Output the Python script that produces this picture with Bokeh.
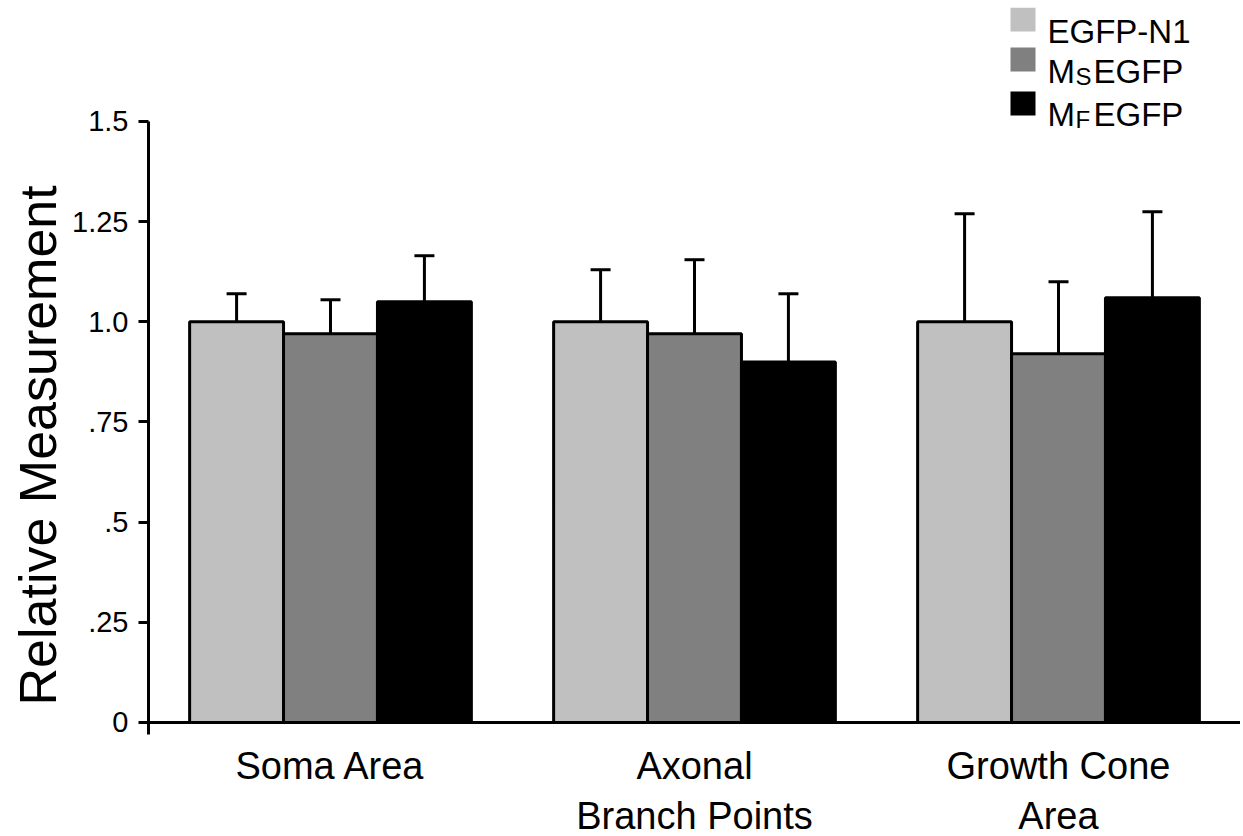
from bokeh.plotting import figure
from bokeh.models import (FactorRange, Range1d, FixedTicker, Span, Whisker, TeeHead,
                          ColumnDataSource, Label, BoxAnnotation, Title)
from bokeh.transform import dodge
from bokeh.embed import file_html
from bokeh.resources import INLINE

# ---- data ----
categories = ["Soma Area", "Axonal\nBranch Points", "Growth Cone\nArea"]
egfp_n1 = [1.0, 1.0, 1.0]
ms_egfp = [0.97, 0.97, 0.92]
mf_egfp = [1.05, 0.90, 1.06]
egfp_n1_err = [0.07, 0.13, 0.27]
ms_egfp_err = [0.085, 0.185, 0.18]
mf_egfp_err = [0.115, 0.17, 0.215]
ytick_values = [0, 0.25, 0.5, 0.75, 1, 1.25, 1.5]
ytick_labels = ["0", ".25", ".5", ".75", "1.0", "1.25", "1.5"]
series_colors = ["#c0c0c0", "#808080", "#000000"]

FONT = "Liberation Sans"
bw = 0.258

src = ColumnDataSource(dict(
    cat=categories,
    egfp=egfp_n1, ms=ms_egfp, mf=mf_egfp,
    egfp_up=[v + e for v, e in zip(egfp_n1, egfp_n1_err)],
    ms_up=[v + e for v, e in zip(ms_egfp, ms_egfp_err)],
    mf_up=[v + e for v, e in zip(mf_egfp, mf_egfp_err)],
))

p = figure(x_range=FactorRange(*categories, range_padding=0),
           y_range=Range1d(-0.03, 1.7845),
           frame_width=1092, frame_height=727,
           min_border_left=148, min_border_right=0, min_border_top=7, min_border_bottom=86,
           output_backend="svg", toolbar_location=None)

cols = ["egfp", "ms", "mf"]
offsets = [-bw, 0, bw]
for col, off, color in zip(cols, offsets, series_colors):
    w = Whisker(base=dodge("cat", off, range=p.x_range), lower=col, upper=col + "_up",
                source=src, line_width=3, line_color="black",
                upper_head=TeeHead(size=20, line_width=3, line_color="black"),
                lower_head=None)
    p.add_layout(w)
    p.vbar(x=dodge("cat", off, range=p.x_range), top=col, bottom=0, width=bw,
           source=src, fill_color=color, line_color="black", line_width=3)

p.add_layout(Span(location=0, dimension="width", line_width=3, line_color="black"))

# axes
p.xgrid.visible = False
p.ygrid.visible = False
p.outline_line_color = None
p.background_fill_color = "white"

ya = p.yaxis[0]
ya.ticker = FixedTicker(ticks=ytick_values)
ya.major_label_overrides = {v: l for v, l in zip(ytick_values, ytick_labels)}
ya.bounds = (-0.03, 1.5)
ya.axis_line_width = 3
ya.axis_line_color = "black"
ya.major_tick_line_width = 3
ya.major_tick_out = 10
ya.major_tick_in = 0
ya.minor_tick_out = 0
ya.minor_tick_in = 0
ya.major_label_standoff = 10
ya.major_label_text_font = FONT
ya.major_label_text_font_size = "29px"
ya.major_label_text_color = "black"

# y-axis title as a side title
p.add_layout(Title(text="Relative Measurement", align="left", offset=29,
                   text_font=FONT, text_font_size="52px", text_font_style="normal",
                   text_color="black", standoff=6), "left")

xa = p.xaxis[0]
xa.axis_line_color = None
xa.major_tick_line_color = None
xa.major_tick_out = 0
xa.major_tick_in = 0
xa.major_label_standoff = 10
xa.major_label_text_font = FONT
xa.major_label_text_font_size = "38px"
xa.major_label_text_color = "black"

# legend (frame screen coords: x from frame left, y from frame bottom)
legend_rows = [("EGFP-N1", None), ("M", "S"), ("M", "F")]
sq_tops = [727, 687, 643]
baselines = [703, 663, 620]
for (main, sub), color, top, base in zip(legend_rows, series_colors, sq_tops, baselines):
    p.add_layout(BoxAnnotation(left=862, right=887, top=top, bottom=top - 24,
                               left_units="screen", right_units="screen",
                               top_units="screen", bottom_units="screen",
                               fill_color=color, fill_alpha=1, line_color=None))
    p.add_layout(Label(x=899, y=base, x_units="screen", y_units="screen", text=main,
                       text_font=FONT, text_font_size="33px", text_color="black",
                       text_baseline="alphabetic"))
    if sub:
        p.add_layout(Label(x=927, y=base - 5, x_units="screen", y_units="screen", text=sub,
                           text_font=FONT, text_font_size="24px", text_color="black",
                           text_baseline="alphabetic"))
        p.add_layout(Label(x=945, y=base, x_units="screen", y_units="screen", text="EGFP",
                           text_font=FONT, text_font_size="33px", text_color="black",
                           text_baseline="alphabetic"))

open("out.html", "w").write(file_html(p, INLINE))
